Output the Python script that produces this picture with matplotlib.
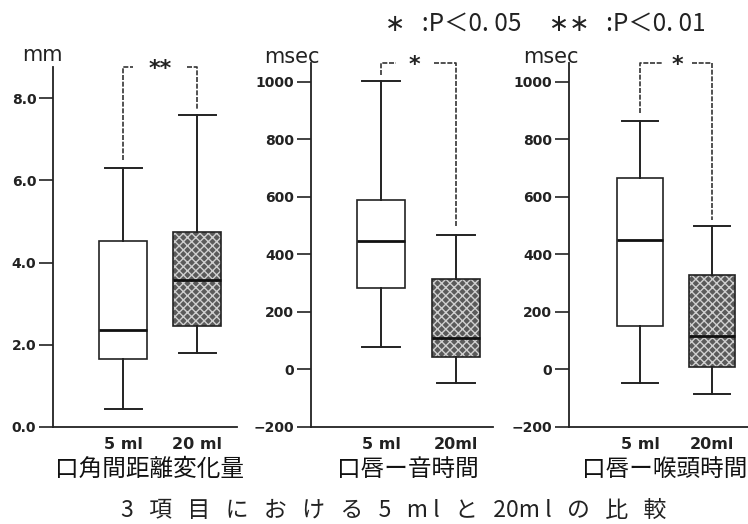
import matplotlib.pyplot as plt
from matplotlib.patches import PathPatch

plt.rcParams['font.family'] = ['DejaVu Sans', 'Noto Sans CJK JP']
JP = ['Noto Sans CJK JP', 'DejaVu Sans']

# box statistics: whislo, q1, med, q3, whishi
mouth_5 = [0.45, 1.65, 2.35, 4.53, 6.3]
mouth_20 = [1.8, 2.45, 3.58, 4.75, 7.6]
sound_5 = [78, 283, 448, 590, 1005]
sound_20 = [-48, 45, 110, 314, 469]
larynx_5 = [-48, 152, 452, 665, 866]
larynx_20 = [-86, 7, 117, 328, 500]

xlabels = [['5 ml', '20 ml'], ['5 ml', '20ml'], ['5 ml', '20ml']]
titles = ['口角間距離変化量', '口唇ー音時間', '口唇ー喉頭時間']
units = ['mm', 'msec', 'msec']
marks = ['**', '*', '*']
yticks = [[0, 2, 4, 6, 8], [-200, 0, 200, 400, 600, 800, 1000],
          [-200, 0, 200, 400, 600, 800, 1000]]
ytick_fmt = ['{:.1f}', '{:d}', '{:d}']

W, H = 748, 524
fig = plt.figure(figsize=(W / 100, H / 100), dpi=100)

def px(x0, y0, x1, y1):
    return [x0 / W, 1 - y1 / H, (x1 - x0) / W, (y1 - y0) / H]

panels = [
    dict(rect=px(53, 67, 237, 427), ylim=(0, 8.76), xlim=(0.054, 2.54),
         data=(mouth_5, mouth_20), leg=(6.5, 7.72), brk=(1.14, 1.86),
         unit_xy=(42, 55), title_x=149),
    dict(rect=px(311, 63, 493, 427), ylim=(-200, 1066), xlim=(0.067, 2.49),
         data=(sound_5, sound_20), leg=(1024, 495), brk=(1.2, 1.7),
         unit_xy=(292, 57), title_x=408),
    dict(rect=px(569, 63, 748, 427), ylim=(-200, 1066), xlim=(0.014, 2.5),
         data=(larynx_5, larynx_20), leg=(893, 521), brk=(1.32, 1.72),
         unit_xy=(551, 57), title_x=665),
]

for i, p in enumerate(panels):
    ax = fig.add_axes(p['rect'])
    stats = []
    for vals, lab in zip(p['data'], xlabels[i]):
        lo, q1, med, q3, hi = vals
        stats.append(dict(whislo=lo, q1=q1, med=med, q3=q3, whishi=hi,
                          label=lab, fliers=[]))
    bp = ax.bxp(stats, positions=[1, 2], widths=0.64, capwidths=0.5,
                patch_artist=True, showfliers=False,
                boxprops=dict(linewidth=1.2, edgecolor='#222222'),
                whiskerprops=dict(linewidth=1.4, color='#222222'),
                capprops=dict(linewidth=1.4, color='#222222'),
                medianprops=dict(linewidth=2.0, color='#111111'))
    bp['boxes'][0].set_facecolor('white')
    hb = bp['boxes'][1]
    hb.set_facecolor('#5a5a5a')
    hb.set_edgecolor('#cfcfcf')
    hb.set_hatch('xxxx')
    hb.set_linewidth(0)
    ax.add_patch(PathPatch(hb.get_path(), fill=False, edgecolor='#222222',
                           linewidth=1.2, zorder=hb.get_zorder() + 0.5))
    for m in bp['medians']:
        m.set_zorder(5)

    ax.set_xlim(*p['xlim'])
    ax.set_ylim(*p['ylim'])
    ax.set_yticks(yticks[i])
    ax.set_yticklabels([ytick_fmt[i].format(t).replace('-', '\u2212')
                        for t in yticks[i]])
    for s in ['top', 'right']:
        ax.spines[s].set_visible(False)
    for s in ['left', 'bottom']:
        ax.spines[s].set_linewidth(1.3)
        ax.spines[s].set_color('#222222')
    ax.tick_params(axis='y', direction='out', length=10, width=1.2,
                   labelsize=10, pad=2, colors='#222222')
    for t in ax.get_yticklabels():
        t.set_fontweight('bold')
    ax.tick_params(axis='x', length=0, labelsize=11.5, pad=7,
                   colors='#222222')
    for t in ax.get_xticklabels():
        t.set_fontweight('bold')

    # significance bracket
    top = p['ylim'][1]
    l_end, r_end = p['leg']
    b0, b1 = p['brk']
    kw = dict(color='#333333', linewidth=1.2, linestyle=(0, (3, 1)),
              clip_on=False)
    ax.plot([1, 1, b0], [l_end, top, top], **kw)
    ax.plot([b1, 2, 2], [top, top, r_end], **kw)
    ax.annotate(marks[i], ((b0 + b1) / 2, top), xytext=(0, -5.5),
                textcoords='offset points', ha='center', va='baseline',
                fontsize=16, fontweight='bold', color='#222222',
                annotation_clip=False)

    ux, uy = p['unit_xy']
    fig.text(ux / W, 1 - uy / H, units[i], ha='center', va='center',
             fontsize=15, color='#222222')
    fig.text(p['title_x'] / W, 1 - 469 / H, titles[i], ha='center',
             va='center', fontsize=17, family=JP, color='#111111')

fig.text(394 / W, 1 - 510 / H,
         '3   項   目   に   お   け   る   5   m l   と   20m l   の   比   較',
         ha='center', va='center', fontsize=16.5, family=JP, color='#222222')
fig.text(545 / W, 1 - 24 / H, '\u2217   :P＜0. 05     \u2217\u2217   :P＜0. 01',
         ha='center', va='center', fontsize=17.5, family=JP, color='#222222')

fig.savefig('out.png', dpi=100, facecolor='white')
